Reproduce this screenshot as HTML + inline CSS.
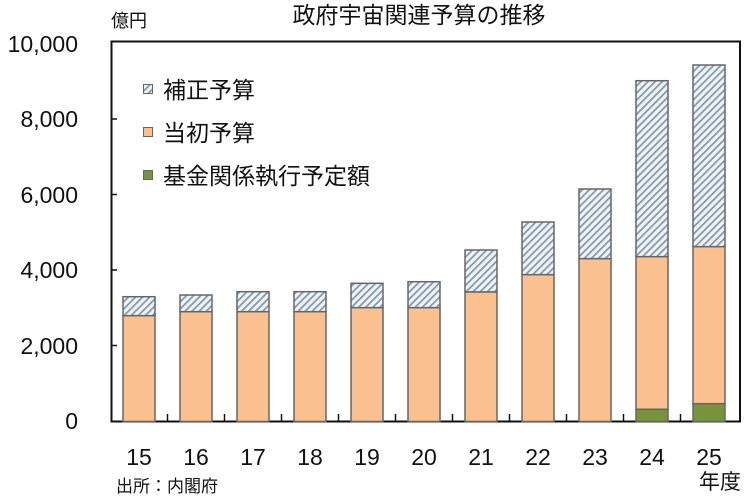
<!DOCTYPE html>
<html><head><meta charset="utf-8"><style>
body{margin:0;background:#fff}
svg text{font-family:"Liberation Sans","Noto Sans CJK JP",sans-serif;fill:#111}
</style></head><body>
<svg width="750" height="498" viewBox="0 0 750 498" xmlns="http://www.w3.org/2000/svg">
<defs>
<pattern id="h" patternUnits="userSpaceOnUse" width="5" height="5" patternTransform="rotate(45)">
<rect width="5" height="5" fill="#eef3f8"/><rect width="1.8" height="5" fill="#8899aa"/>
</pattern>
</defs>
<text x="419" y="23" font-size="23" text-anchor="middle">政府宇宙関連予算の推移</text>
<text x="111" y="27" font-size="18">億円</text>
<g font-size="23" text-anchor="end">
<text x="78" y="52">10,000</text>
<text x="78" y="127">8,000</text>
<text x="78" y="203">6,000</text>
<text x="78" y="278">4,000</text>
<text x="78" y="354">2,000</text>
<text x="78" y="429">0</text>
</g>
<rect x="111.5" y="41.5" width="628.5" height="380" fill="none" stroke="#111" stroke-width="2"/>
<g stroke="#111" stroke-width="1.5">
<line x1="111" y1="119" x2="117" y2="119"/><line x1="111" y1="194.5" x2="117" y2="194.5"/>
<line x1="111" y1="270" x2="117" y2="270"/><line x1="111" y1="345.5" x2="117" y2="345.5"/>
<line x1="167.5" y1="421" x2="167.5" y2="414"/><line x1="224.5" y1="421" x2="224.5" y2="414"/>
<line x1="281.5" y1="421" x2="281.5" y2="414"/><line x1="338.5" y1="421" x2="338.5" y2="414"/>
<line x1="395.5" y1="421" x2="395.5" y2="414"/><line x1="452.5" y1="421" x2="452.5" y2="414"/>
<line x1="509.5" y1="421" x2="509.5" y2="414"/><line x1="566.5" y1="421" x2="566.5" y2="414"/>
<line x1="623.5" y1="421" x2="623.5" y2="414"/><line x1="680.5" y1="421" x2="680.5" y2="414"/>
</g>
<g stroke="#666" stroke-width="1.5">
<rect x="123" y="296.7" width="32" height="19" fill="url(#h)"/><rect x="123" y="315.7" width="32" height="105.8" fill="#fac090"/>
<rect x="180" y="295" width="32" height="16.7" fill="url(#h)"/><rect x="180" y="311.7" width="32" height="109.8" fill="#fac090"/>
<rect x="237" y="291.7" width="32" height="20" fill="url(#h)"/><rect x="237" y="311.7" width="32" height="109.8" fill="#fac090"/>
<rect x="294" y="291.7" width="32" height="20" fill="url(#h)"/><rect x="294" y="311.7" width="32" height="109.8" fill="#fac090"/>
<rect x="351" y="283.3" width="32" height="24.4" fill="url(#h)"/><rect x="351" y="307.7" width="32" height="113.8" fill="#fac090"/>
<rect x="408" y="281.7" width="32" height="26" fill="url(#h)"/><rect x="408" y="307.7" width="32" height="113.8" fill="#fac090"/>
<rect x="465" y="250" width="32" height="42" fill="url(#h)"/><rect x="465" y="292" width="32" height="129.5" fill="#fac090"/>
<rect x="522" y="222" width="32" height="52.7" fill="url(#h)"/><rect x="522" y="274.7" width="32" height="146.8" fill="#fac090"/>
<rect x="579" y="189" width="32" height="69.7" fill="url(#h)"/><rect x="579" y="258.7" width="32" height="162.8" fill="#fac090"/>
<rect x="636" y="80.7" width="32" height="176" fill="url(#h)"/><rect x="636" y="256.7" width="32" height="152.6" fill="#fac090"/><rect x="636" y="409.3" width="32" height="12.2" fill="#77933c"/>
<rect x="693" y="65" width="32" height="181.7" fill="url(#h)"/><rect x="693" y="246.7" width="32" height="157" fill="#fac090"/><rect x="693" y="403.7" width="32" height="17.8" fill="#77933c"/>
</g>
<g stroke="#666" stroke-width="1">
<rect x="143.5" y="84.5" width="9" height="9" fill="url(#h)"/>
<rect x="143.5" y="127.5" width="9" height="9" fill="#fac090"/>
<rect x="143.5" y="170.5" width="9" height="9" fill="#77933c"/>
</g>
<g font-size="23">
<text x="163" y="98">補正予算</text>
<text x="163" y="141">当初予算</text>
<text x="163" y="184">基金関係執行予定額</text>
</g>
<g font-size="23" text-anchor="middle">
<text x="139" y="465">15</text><text x="196" y="465">16</text><text x="253" y="465">17</text>
<text x="310" y="465">18</text><text x="367" y="465">19</text><text x="424" y="465">20</text>
<text x="481" y="465">21</text><text x="538" y="465">22</text><text x="595" y="465">23</text>
<text x="652" y="465">24</text><text x="709" y="465">25</text>
</g>
<text x="699" y="489" font-size="21">年度</text>
<text x="116" y="492" font-size="17">出所：内閣府</text>
</svg>
</body></html>
